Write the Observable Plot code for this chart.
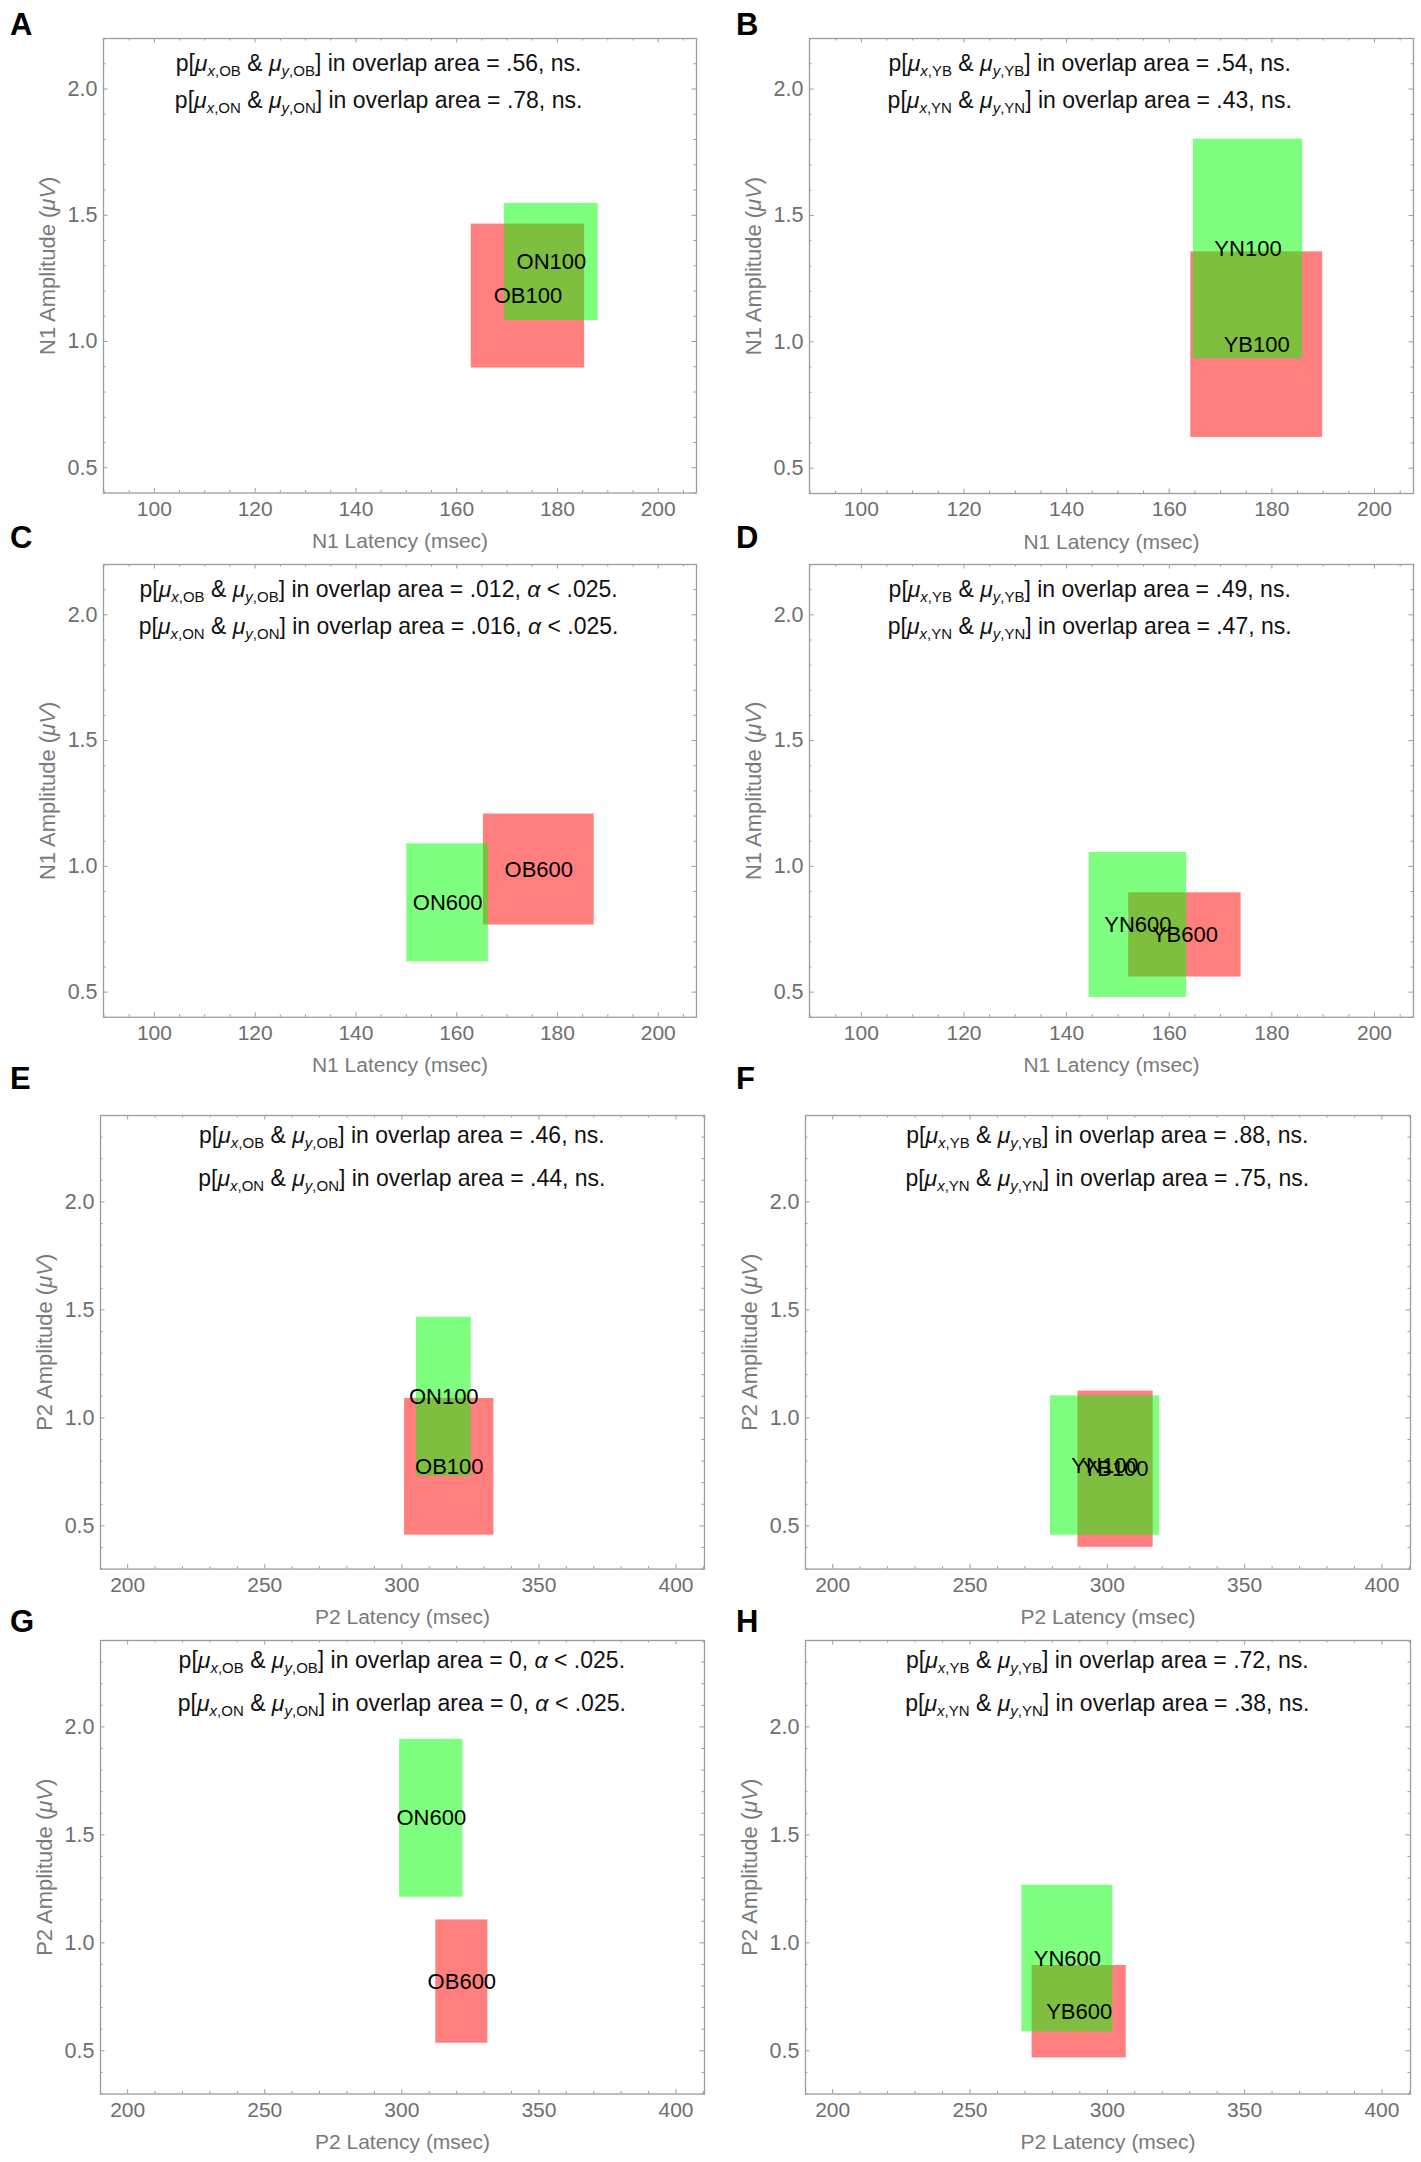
<!DOCTYPE html>
<html><head><meta charset="utf-8">
<script src="https://cdn.jsdelivr.net/npm/d3@7"></script>
<script src="https://cdn.jsdelivr.net/npm/@observablehq/plot@0.6"></script>
<style>
body{margin:0;background:#fff;}
#fig{position:relative;width:1421px;height:2162px;background:#fff;overflow:hidden;}
.letter{position:absolute;font:bold 31px "Liberation Sans",Arial,sans-serif;line-height:31px;color:#000;}
</style></head><body><div id="fig"></div>
<script>
// ---------- data ----------
const panelLetters = ["A","B","C","D","E","F","G","H"];
const xTitles = ["N1 Latency (msec)","N1 Latency (msec)","N1 Latency (msec)","N1 Latency (msec)",
                 "P2 Latency (msec)","P2 Latency (msec)","P2 Latency (msec)","P2 Latency (msec)"];
const yTitleStems = ["N1 Amplitude","N1 Amplitude","N1 Amplitude","N1 Amplitude",
                     "P2 Amplitude","P2 Amplitude","P2 Amplitude","P2 Amplitude"];
const yUnit = "μV";

// red (B groups) rectangles
const redNames = ["OB100","YB100","OB600","YB600","OB100","YB100","OB600","YB600"];
const redX1 = [162.9, 164.2, 165.3, 152.1, 301.0, 289.3, 312.4, 272.6];
const redX2 = [185.4, 189.9, 187.3, 174.0, 333.6, 316.7, 331.4, 306.9];
const redY1 = [0.895, 0.622, 0.767, 0.560, 0.457, 0.401, 0.535, 0.467];
const redY2 = [1.465, 1.356, 1.208, 0.895, 1.090, 1.124, 1.106, 0.895];
// green (N groups) rectangles
const greenNames = ["ON100","YN100","ON600","YN600","ON100","YN100","ON600","YN600"];
const greenX1 = [169.5, 164.7, 150.1, 144.4, 305.3, 279.3, 299.2, 268.9];
const greenX2 = [188.1, 186.0, 166.3, 163.4, 325.3, 319.0, 322.3, 302.0];
const greenY1 = [1.083, 0.933, 0.620, 0.479, 0.730, 0.457, 1.211, 0.588];
const greenY2 = [1.547, 1.802, 1.090, 1.055, 1.466, 1.102, 1.942, 1.267];

// annotation texts
const bGroups = ["OB","YB","OB","YB","OB","YB","OB","YB"];
const nGroups = ["ON","YN","ON","YN","ON","YN","ON","YN"];
const bResults = [".56, ns.", ".54, ns.", ".012, α < .025.", ".49, ns.", ".46, ns.", ".88, ns.", "0, α < .025.", ".72, ns."];
const nResults = [".78, ns.", ".43, ns.", ".016, α < .025.", ".47, ns.", ".44, ns.", ".75, ns.", "0, α < .025.", ".38, ns."];

// tick labels
const n1LatencyTicks = [100, 120, 140, 160, 180, 200];
const p2LatencyTicks = [200, 250, 300, 350, 400];
const amplitudeTicks = [0.5, 1.0, 1.5, 2.0];

// ---------- scales / layout ----------
const scaleN1 = {xDomain:[89.9, 207.6], yDomain:[0.4, 2.2], xTicks:n1LatencyTicks, minorX:5, majorX:20, annX:144.5, annY:[2.10, 1.955]};
const scaleP2 = {xDomain:[190.1, 410.4], yDomain:[0.3, 2.4], xTicks:p2LatencyTicks, minorX:10, majorX:50, annX:300, annY:[2.305, 2.107]};
// frame [left, top, right, bottom] in page pixels
const frames = [
  [103, 38, 696, 492.5], [809, 38, 1413, 493],
  [103, 563.6, 696, 1016.4], [809, 563.6, 1413, 1016.4],
  [100, 1115.4, 704, 1569], [805, 1115.4, 1410, 1569],
  [100, 1640, 704, 2093.5], [805, 1640, 1410, 2093.5]
];
const letterPos = [[10,9],[736,9],[10,522],[736,522],[10,1063],[736,1063],[10,1606],[736,1606]];

const FONT = "'Liberation Sans', Arial, Helvetica, sans-serif";
const FRAME_COLOR = "#9c9c9c";
const TICK_TEXT = "#6e6e6e";
const TITLE_TEXT = "#7a7a7a";
const SVGNS = "http://www.w3.org/2000/svg";

function tspan(parent, txt, attrs = {}) {
  const t = document.createElementNS(SVGNS, "tspan");
  for (const [k, v] of Object.entries(attrs)) t.setAttribute(k, v);
  t.textContent = txt;
  parent.appendChild(t);
  return t;
}
const annPlain = (g, r) => `p[μx,${g} & μy,${g}] in overlap area = ${r}`;
function buildAnnotation(el, group, result) {
  el.textContent = "";
  const subSize = 15, shift = 5;
  tspan(el, "p[");
  tspan(el, "μ", {"font-style": "italic"});
  tspan(el, "x", {"font-style": "italic", "font-size": subSize, dy: shift});
  tspan(el, "," + group, {"font-size": subSize});
  tspan(el, " & ", {dy: -shift});
  tspan(el, "μ", {"font-style": "italic"});
  tspan(el, "y", {"font-style": "italic", "font-size": subSize, dy: shift});
  tspan(el, "," + group, {"font-size": subSize});
  tspan(el, "] in overlap area = ", {dy: -shift});
  result.split("α").forEach((p, i) => {
    if (i > 0) tspan(el, "α", {"font-style": "italic"});
    if (p) tspan(el, p);
  });
}
function ticksBetween(domain, step) {
  const k0 = Math.ceil(domain[0] / step - 1e-9), k1 = Math.floor(domain[1] / step + 1e-9);
  return d3.range(k0, k1 + 1).map(k => +(k * step).toFixed(6));
}
const isMult = (v, m) => Math.abs(v / m - Math.round(v / m)) < 1e-6;
const stripArrows = s => s.replace(/[\u2190-\u2193]/g, "").trim();

const fig = document.getElementById("fig");

panelLetters.forEach((letter, i) => {
  const s = i < 4 ? scaleN1 : scaleP2;
  const col = i % 2;
  const colLeft = col === 0 ? 0 : 710;
  const width = col === 0 ? 710 : 711;
  const [fl, ft, fr, fb] = frames[i];
  const mt = 10, mb = 72;
  const innerW = fr - fl, innerH = fb - ft;
  const height = mt + innerH + mb;

  const red = [{x1: redX1[i], x2: redX2[i], y1: redY1[i], y2: redY2[i], name: redNames[i]}];
  const green = [{x1: greenX1[i], x2: greenX2[i], y1: greenY1[i], y2: greenY2[i], name: greenNames[i]}];
  const labels = [...red, ...green];
  const ann = [
    {y: s.annY[0], g: bGroups[i], r: bResults[i]},
    {y: s.annY[1], g: nGroups[i], r: nResults[i]}
  ];

  const xAll = ticksBetween(s.xDomain, s.minorX);
  const yAll = ticksBetween(s.yDomain, 0.1);
  const xMajor = xAll.filter(v => isMult(v, s.majorX)), xMinor = xAll.filter(v => !isMult(v, s.majorX));
  const yMajor = yAll.filter(v => isMult(v, 0.5)), yMinor = yAll.filter(v => !isMult(v, 0.5));
  const LM = 4.5, Lm = 2.5;
  const tk = {stroke: FRAME_COLOR, strokeWidth: 1};
  const yTitle = `${yTitleStems[i]} (${yUnit})`;

  const svg = Plot.plot({
    width, height,
    marginLeft: fl - colLeft, marginRight: colLeft + width - fr,
    marginTop: mt, marginBottom: mb,
    x: {domain: s.xDomain},
    y: {domain: s.yDomain},
    style: {fontFamily: FONT, background: "transparent", overflow: "visible"},
    marks: [
      Plot.rect(red, {x1: "x1", x2: "x2", y1: "y1", y2: "y2", fill: "#ff0000", fillOpacity: 0.5}),
      Plot.rect(green, {x1: "x1", x2: "x2", y1: "y1", y2: "y2", fill: "#00ff00", fillOpacity: 0.5}),
      Plot.text(labels, {x: d => (d.x1 + d.x2) / 2, y: d => (d.y1 + d.y2) / 2, text: "name", fontSize: 22, fill: "#000", fontFamily: FONT}),
      Plot.text(ann, {x: () => s.annX, y: "y", text: d => annPlain(d.g, d.r), fontSize: 23, fill: "#111", fontFamily: FONT}),
      // inward frame ticks, all four sides
      Plot.tickX(xMajor, {x: d => d, insetTop: innerH - LM, ...tk}),
      Plot.tickX(xMinor, {x: d => d, insetTop: innerH - Lm, ...tk}),
      Plot.tickX(xMajor, {x: d => d, insetBottom: innerH - LM, ...tk}),
      Plot.tickX(xMinor, {x: d => d, insetBottom: innerH - Lm, ...tk}),
      Plot.tickY(yMajor, {y: d => d, insetRight: innerW - LM, ...tk}),
      Plot.tickY(yMinor, {y: d => d, insetRight: innerW - Lm, ...tk}),
      Plot.tickY(yMajor, {y: d => d, insetLeft: innerW - LM, ...tk}),
      Plot.tickY(yMinor, {y: d => d, insetLeft: innerW - Lm, ...tk}),
      Plot.frame({stroke: FRAME_COLOR, strokeWidth: 1.3}),
      Plot.axisX(s.xTicks, {anchor: "bottom", tickSize: 0, tickPadding: 8, fontSize: 21, fill: TICK_TEXT,
        label: xTitles[i], labelArrow: false, labelAnchor: "center", labelOffset: 55}),
      Plot.axisY(amplitudeTicks, {anchor: "left", tickSize: 0, tickPadding: 6, fontSize: 21.5, fill: TICK_TEXT,
        tickFormat: d3.format(".1f"), label: yTitle, labelArrow: false, labelAnchor: "center", labelOffset: 64})
    ]
  });

  svg.style.position = "absolute";
  svg.style.left = colLeft + "px";
  svg.style.top = (ft - mt) + "px";
  svg.style.maxWidth = "none";
  svg.style.background = "transparent";

  svg.querySelectorAll("text").forEach(el => {
    const raw = el.textContent;
    const t = stripArrows(raw);
    // rich annotation text (italic μ, subscripts)
    for (const a of ann) {
      if (raw === annPlain(a.g, a.r)) { buildAnnotation(el, a.g, a.r); return; }
    }
    if (t === xTitles[i]) { el.textContent = t; el.setAttribute("fill", TITLE_TEXT); }
    else if (t === yTitle) {
      el.textContent = "";
      el.setAttribute("fill", TITLE_TEXT);
      el.setAttribute("font-size", 22);
      tspan(el, yTitleStems[i] + " (");
      tspan(el, yUnit, {"font-style": "italic"});
      tspan(el, ")");
    }
  });

  fig.appendChild(svg);

  const lab = document.createElement("div");
  lab.className = "letter";
  lab.textContent = letter;
  lab.style.left = letterPos[i][0] + "px";
  lab.style.top = letterPos[i][1] + "px";
  fig.appendChild(lab);
});
</script></body></html>
